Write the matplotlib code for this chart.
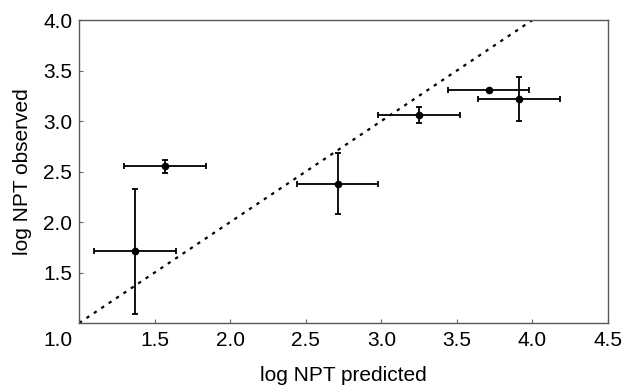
import matplotlib.pyplot as plt
from matplotlib.transforms import ScaledTranslation

plt.rcParams['font.family'] = ['Liberation Sans', 'DejaVu Sans']

# Data
predicted = [1.37, 1.57, 2.71, 3.25, 3.71, 3.91]
observed = [1.71, 2.55, 2.38, 3.06, 3.31, 3.22]
pred_err = [0.27, 0.27, 0.27, 0.27, 0.27, 0.27]
obs_err = [0.62, 0.06, 0.30, 0.08, 0.0, 0.22]
line_x = [1.0, 4.0]
x_ticks = [1.0, 1.5, 2.0, 2.5, 3.0, 3.5, 4.0, 4.5]
y_ticks = [1.5, 2.0, 2.5, 3.0, 3.5, 4.0]

fig = plt.figure(figsize=(6.23, 3.85), dpi=100)
ax = fig.add_axes([0.127, 0.161, 0.849, 0.787])

ax.plot(line_x, line_x, color='black', linestyle=(0, (1.5, 2.5)), linewidth=1.6)
ax.errorbar(predicted, observed, xerr=pred_err, yerr=obs_err, fmt='o',
            color='black', markersize=4.5, elinewidth=1.3, capsize=2.5,
            capthick=1.3)

ax.set_xlim(1.0, 4.5)
ax.set_ylim(1.0, 4.0)
ax.set_xticks(x_ticks)
ax.set_xticklabels([f'{t:.1f}' for t in x_ticks])
ax.set_yticks(y_ticks)
ax.set_yticklabels([f'{t:.1f}' for t in y_ticks])
ax.tick_params(direction='in', length=3, width=0.8, color='0.4',
               labelsize=15)
ax.tick_params(axis='x', pad=6)
ax.tick_params(axis='y', pad=5)
first = ax.get_xticklabels()[0]
first.set_horizontalalignment('right')
first.set_transform(first.get_transform() + ScaledTranslation(-0.07, 0, fig.dpi_scale_trans))

for s in ax.spines.values():
    s.set_color('0.35')
    s.set_linewidth(1.0)

ax.set_xlabel('log NPT predicted', fontsize=15, labelpad=11)
ax.set_ylabel('log NPT observed', fontsize=15, labelpad=8)

fig.savefig('out.png', dpi=100)
